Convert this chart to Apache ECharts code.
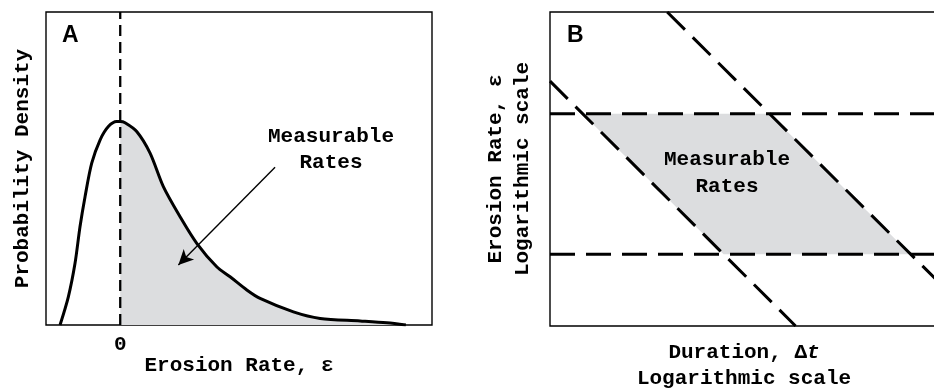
<!DOCTYPE html>
<html>
<head>
<meta charset="utf-8">
<script src="https://cdn.jsdelivr.net/npm/echarts@6.0.0/dist/echarts.min.js"></script>
<style>
  html, body { margin: 0; padding: 0; background: #fff; }
  #chart { width: 934px; height: 389px; }
</style>
</head>
<body>
<div id="chart"></div>
<script>
// 面板A：侵蚀速率的概率密度曲线
const curveX = [-0.811, -0.699, -0.609, -0.542, -0.474, -0.384, -0.272, -0.16, -0.047, 0, 0.065, 0.222, 0.402, 0.581, 0.806, 1.031, 1.3, 1.48, 1.705, 1.884, 2.333, 2.693, 3.232, 3.592, 3.848]
const curveY = [0, 0.09, 0.197, 0.314, 0.41, 0.517, 0.591, 0.634, 0.65, 0.65, 0.646, 0.618, 0.549, 0.442, 0.346, 0.261, 0.186, 0.154, 0.112, 0.085, 0.042, 0.021, 0.013, 0.007, 0]
const xTicksA = [0]
const arrowFrom = [2.086, 0.504]
const arrowTo = [0.783, 0.192]

// 面板B：对数坐标下的可测范围
const rateLimits = [10, 1000]           // 水平虚线（侵蚀速率）
const durationRange = [1, 320000]
const diagLow = [[1, 2900], [3050, 0.95]]
const diagHigh = [[46, 28000], [320000, 4.1]]
const fillCorners = [[2.9, 1000], [1300, 1000], [130000, 10], [290, 10]]

const mono = '"Liberation Mono", "Courier New", monospace'
const txt = { fontFamily: mono, fontWeight: 'bold', fontSize: 21, color: '#000' }

const curve = curveX.map((x, i) => [x, curveY[i]])
const shaded = curve.filter(p => p[0] >= 0)

const chart = echarts.init(document.getElementById('chart'))
const option = {
  animation: false,
  grid: [
    { left: 46, top: 12, width: 386, height: 313, outerBoundsMode: 'none', containLabel: false, show: true, borderColor: '#000', borderWidth: 1.4, backgroundColor: 'transparent' },
    { left: 550, top: 12, width: 388, height: 314, outerBoundsMode: 'none', containLabel: false, show: true, borderColor: '#000', borderWidth: 1.4, backgroundColor: 'transparent' }
  ],
  xAxis: [
    {
      gridIndex: 0, type: 'value', min: -1, max: 4.2, interval: 1,
      axisLine: { show: false }, axisTick: { show: false }, splitLine: { show: false },
      axisLabel: { customValues: xTicksA, margin: 9, ...txt },
      name: 'Erosion Rate, ε', nameLocation: 'middle', nameGap: 30, nameMoveOverlap: false, nameTextStyle: txt
    },
    {
      gridIndex: 1, type: 'log', min: durationRange[0], max: durationRange[1],
      axisLine: { show: false }, axisTick: { show: false }, splitLine: { show: false }, axisLabel: { show: false },
      name: 'Duration, Δ{it|t}\nLogarithmic scale', nameLocation: 'middle', nameGap: 14, nameMoveOverlap: false,
      nameTextStyle: { ...txt, lineHeight: 26, rich: { it: { ...txt, fontStyle: 'italic', lineHeight: 26 } } }
    }
  ],
  yAxis: [
    {
      gridIndex: 0, type: 'value', min: 0, max: 1,
      axisLine: { show: false }, axisTick: { show: false }, splitLine: { show: false }, axisLabel: { show: false },
      name: 'Probability Density', nameLocation: 'middle', nameGap: 13, nameMoveOverlap: false, nameTextStyle: txt
    },
    {
      gridIndex: 1, type: 'log', min: 0.95, max: 28000,
      axisLine: { show: false }, axisTick: { show: false }, splitLine: { show: false }, axisLabel: { show: false },
      name: 'Erosion Rate, ε\nLogarithmic scale', nameLocation: 'middle', nameGap: 14, nameMoveOverlap: false,
      nameTextStyle: { ...txt, lineHeight: 27 }
    }
  ],
  series: [
    {
      type: 'line', xAxisIndex: 0, yAxisIndex: 0, data: shaded, smooth: 0.3,
      symbol: 'none', lineStyle: { width: 0 }, areaStyle: { color: '#dcdddf', opacity: 1 }, z: 1
    },
    {
      type: 'line', xAxisIndex: 0, yAxisIndex: 0, data: [[0, 0], [0, 1]],
      symbol: 'none', lineStyle: { color: '#000', width: 2.3, type: [11, 6] }, z: 2
    },
    {
      type: 'line', xAxisIndex: 0, yAxisIndex: 0, data: curve, smooth: 0.3,
      symbol: 'none', lineStyle: { color: '#000', width: 3 }, z: 3,
      markLine: {
        silent: true, animation: false, symbol: ['none', 'arrow'], symbolSize: [11, 15],
        label: { show: false }, lineStyle: { color: '#000', width: 1.4, type: 'solid' },
        data: [[{ coord: arrowFrom }, { coord: arrowTo }]]
      }
    },
    {
      type: 'custom', xAxisIndex: 1, yAxisIndex: 1, data: [0], z: 1,
      renderItem: (params, api) => ({
        type: 'polygon',
        shape: { points: fillCorners.map(p => api.coord(p)) },
        style: { fill: '#dcdddf' }
      })
    },
    ...rateLimits.map(r => ({
      type: 'line', xAxisIndex: 1, yAxisIndex: 1, data: [[durationRange[0], r], [durationRange[1], r]],
      symbol: 'none', lineStyle: { color: '#000', width: 3, type: [25, 11] }, z: 3
    })),
    ...[diagLow, diagHigh].map(d => ({
      type: 'line', xAxisIndex: 1, yAxisIndex: 1, data: d, clip: true,
      symbol: 'none', lineStyle: { color: '#000', width: 3, type: [25, 11] }, z: 3
    }))
  ],
  graphic: [
    { type: 'text', x: 62, y: 36, style: { text: 'A', font: 'bold 23px "Liberation Sans", Arial, sans-serif', fill: '#000', verticalAlign: 'middle' } },
    { type: 'text', x: 567, y: 36, style: { text: 'B', font: 'bold 23px "Liberation Sans", Arial, sans-serif', fill: '#000', verticalAlign: 'middle' } },
    { type: 'text', x: 331, y: 150, z: 10, style: { text: 'Measurable\nRates', font: 'bold 21px ' + mono, fill: '#000', align: 'center', verticalAlign: 'middle', lineHeight: 26 } },
    { type: 'text', x: 727, y: 173, z: 10, style: { text: 'Measurable\nRates', font: 'bold 21px ' + mono, fill: '#000', align: 'center', verticalAlign: 'middle', lineHeight: 27 } }
  ]
}
chart.setOption(option)
</script>
</body>
</html>
